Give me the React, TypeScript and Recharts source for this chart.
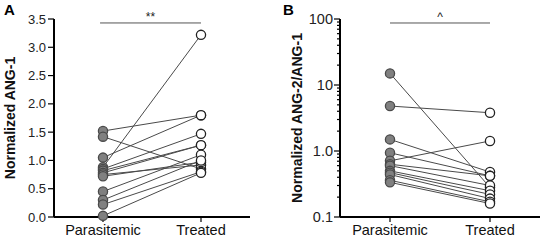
import React from "react";
import { LineChart, Line, XAxis, YAxis, ReferenceLine } from "recharts";

const groups = ["Parasitemic", "Treated"];

// panel A: normalized ANG-1, one entry per subject
const ang1Parasitemic = [0.88, 1.52, 1.42, 1.05, 0.85, 0.82, 0.78, 0.75, 0.72, 0.45, 0.3, 0.22, 0.02];
const ang1Treated = [3.22, 1.8, 0.85, 1.8, 1.47, 1.27, 1.27, 0.92, 0.97, 1.1, 1.0, 0.8, 0.78];
const ang1Ticks = [0, 0.5, 1, 1.5, 2, 2.5, 3, 3.5];

// panel B: normalized ANG-2/ANG-1
const ratioParasitemic = [15, 4.8, 1.5, 0.94, 0.71, 0.63, 0.6, 0.5, 0.47, 0.44, 0.36, 0.335];
const ratioTreated = [0.28, 3.8, 0.48, 0.42, 1.42, 0.42, 0.3, 0.25, 0.22, 0.19, 0.17, 0.16];
const ratioMajorTicks = [0.1, 1, 10, 100];

const font = "Arial, 'Liberation Sans', sans-serif";

const buildRows = (before: number[], after: number[]) =>
  [before, after].map((vals, x) => {
    const row: Record<string, number> = { x };
    vals.forEach((v, i) => (row[`s${i}`] = v));
    return row;
  });

const ratioTicks = ratioMajorTicks.flatMap((d, i) =>
  i === ratioMajorTicks.length - 1 ? [d] : [1, 2, 3, 4, 5, 6, 7, 8, 9].map((k) => +(d * k).toPrecision(3))
);

const PairDot = (props: any) => {
  const { cx, cy, index, dataKey } = props;
  if (cx == null || cy == null) return null;
  const before = index === 0;
  return (
    <circle
      key={`${dataKey}-${index}`}
      cx={cx}
      cy={cy}
      r={4.6}
      fill={before ? "#808080" : "#ffffff"}
      stroke={before ? "#4a4a4a" : "#222"}
      strokeWidth={1.3}
    />
  );
};

const LogTick = (props: any) => {
  const { x, y, payload } = props;
  const v = payload.value;
  const major = ratioMajorTicks.includes(v);
  const ax = x + 8;
  const label = v >= 10 ? String(v) : v.toFixed(1);
  return (
    <g>
      <line x1={ax - (major ? 6 : 3)} x2={ax} y1={y} y2={y} stroke="#000" strokeWidth={1.2} />
      {major && (
        <text x={ax - 7} y={y} textAnchor="end" dominantBaseline="central" fontSize={14.5} fill="#222" fontFamily={font}>
          {label}
        </text>
      )}
    </g>
  );
};

const axisTitle = (title: string, tx: number) => ({
  content: (p: any) => {
    const vb = p.viewBox || {};
    const cy = (vb.y ?? 19) + (vb.height ?? 198) / 2;
    return (
      <text
        x={tx}
        y={cy}
        transform={`rotate(-90, ${tx}, ${cy})`}
        textAnchor="middle"
        dominantBaseline="central"
        fontSize={14}
        fontWeight="bold"
        fill="#111"
        fontFamily={font}
      >
        {title}
      </text>
    );
  },
});

const sigLabel = (mark: string) => ({
  content: (p: any) => {
    const vb = p.viewBox || {};
    return (
      <text x={vb.x + vb.width / 2} y={vb.y - 2} textAnchor="middle" fontSize={12} fill="#222" fontFamily={font}>
        {mark}
      </text>
    );
  },
});

const xAxisProps = {
  dataKey: "x",
  type: "number" as const,
  domain: [-0.5, 1.5],
  ticks: [0, 1],
  tickFormatter: (v: number) => groups[v] ?? "",
  height: 23,
  axisLine: { stroke: "#000", strokeWidth: 2 },
  tickLine: { stroke: "#000", strokeWidth: 1.2 },
  tickSize: 5,
  tickMargin: 3,
  tick: { fontSize: 14.5, fill: "#111", fontFamily: font },
  interval: 0 as const,
};

const PanelA = () => {
  const rows = buildRows(ang1Parasitemic, ang1Treated);
  return (
    <LineChart width={270} height={240} data={rows} margin={{ top: 19, right: 20, bottom: 0, left: 0 }}>
      <XAxis {...xAxisProps} />
      <YAxis
        type="number"
        domain={[0, 3.5]}
        ticks={ang1Ticks}
        interval={0}
        width={54}
        tickFormatter={(v: number) => v.toFixed(1)}
        axisLine={{ stroke: "#000", strokeWidth: 2 }}
        tickLine={{ stroke: "#000", strokeWidth: 1.2 }}
        tickSize={6}
        tickMargin={2}
        tick={{ fontSize: 13, fill: "#222", fontFamily: font }}
        label={axisTitle("Normalized ANG-1", 10)}
      />
      <ReferenceLine
        segment={[
          { x: -0.03, y: 3.43 },
          { x: 1, y: 3.43 },
        ]}
        stroke="#555"
        strokeWidth={1}
        ifOverflow="visible"
        label={sigLabel("**")}
      />
      {ang1Parasitemic.map((_, i) => (
        <Line
          key={i}
          dataKey={`s${i}`}
          stroke="#4a4a4a"
          strokeWidth={1}
          dot={PairDot}
          activeDot={false}
          isAnimationActive={false}
        />
      ))}
    </LineChart>
  );
};

const PanelB = () => {
  const rows = buildRows(ratioParasitemic, ratioTreated);
  return (
    <LineChart width={271} height={240} data={rows} margin={{ top: 19, right: 1, bottom: 0, left: 0 }}>
      <XAxis {...xAxisProps} />
      <YAxis
        type="number"
        scale="log"
        domain={[0.1, 100]}
        allowDataOverflow
        ticks={ratioTicks}
        interval={0}
        width={70}
        axisLine={{ stroke: "#000", strokeWidth: 2 }}
        tickLine={false}
        tickSize={6}
        tickMargin={2}
        tick={<LogTick />}
        label={axisTitle("Normalized ANG-2/ANG-1", 27)}
      />
      <ReferenceLine
        segment={[
          { x: 0, y: 87 },
          { x: 1, y: 87 },
        ]}
        stroke="#555"
        strokeWidth={1}
        ifOverflow="visible"
        label={sigLabel("^")}
      />
      {ratioParasitemic.map((_, i) => (
        <Line
          key={i}
          dataKey={`s${i}`}
          stroke="#4a4a4a"
          strokeWidth={1}
          dot={PairDot}
          activeDot={false}
          isAnimationActive={false}
        />
      ))}
    </LineChart>
  );
};

export default function App() {
  return (
    <div style={{ position: "relative", width: 541, height: 240, background: "#fff", fontFamily: font }}>
      <style>{"body{margin:0}"}</style>
      <div style={{ position: "absolute", left: 0, top: 0 }}>
        <PanelA />
      </div>
      <div style={{ position: "absolute", left: 270, top: 0 }}>
        <PanelB />
      </div>
      <div style={{ position: "absolute", left: 4, top: 1, fontSize: 15, fontWeight: "bold" }}>A</div>
      <div style={{ position: "absolute", left: 283, top: 1, fontSize: 15, fontWeight: "bold" }}>B</div>
    </div>
  );
}
